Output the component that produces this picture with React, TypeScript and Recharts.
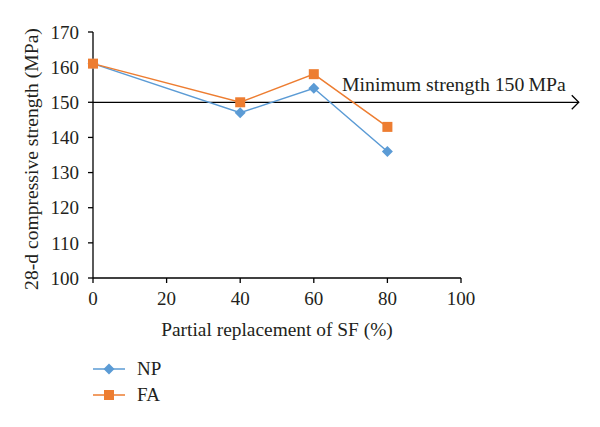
import React from 'react';
import { LineChart, Line, XAxis, YAxis, ReferenceLine, Legend } from 'recharts';

const replacement = [0, 40, 60, 80];
const npStrength = [161, 147, 154, 136];
const faStrength = [161, 150, 158, 143];
const xTicks = [0, 20, 40, 60, 80, 100];
const yTicks = [100, 110, 120, 130, 140, 150, 160, 170];
const minStrength = 150;

const NP_COLOR = '#5b9bd5';
const FA_COLOR = '#ed7d31';
const FONT = '"Liberation Serif", "Times New Roman", serif';

const data = replacement.map((x, i) => ({ x, np: npStrength[i], fa: faStrength[i] }));

const Diamond = (props: any) => {
  const { cx, cy, fill } = props;
  if (cx == null || cy == null) return null;
  const r = 5.5;
  return <polygon points={`${cx},${cy - r} ${cx + r},${cy} ${cx},${cy + r} ${cx - r},${cy}`} fill={fill} />;
};

const Square = (props: any) => {
  const { cx, cy, fill } = props;
  if (cx == null || cy == null) return null;
  const s = 10;
  return <rect x={cx - s / 2} y={cy - s / 2} width={s} height={s} fill={fill} />;
};

const ArrowLine = (props: any) => {
  const { x1, y1, x2, y2 } = props;
  return (
    <g>
      <line x1={x1} y1={y1} x2={x2} y2={y2} stroke="#000" strokeWidth={1.3} />
      <polyline points={`${x2 - 7},${y2 - 7} ${x2},${y2} ${x2 - 7},${y2 + 7}`} fill="none" stroke="#000" strokeWidth={1.3} />
      <text x={x2 - 13} y={y1 - 11} textAnchor="end" fontFamily={FONT} fontSize={19.8} fill="#231f20">
        Minimum strength 150{'\u2009'}MPa
      </text>
    </g>
  );
};

const renderLegend = () => {
  const items = [
    { name: 'NP', color: NP_COLOR, shape: 'diamond' },
    { name: 'FA', color: FA_COLOR, shape: 'square' },
  ];
  return (
    <div style={{ fontFamily: FONT, fontSize: 19, color: '#231f20' }}>
      {items.map((it) => (
        <div key={it.name} style={{ display: 'flex', alignItems: 'center', height: 26 }}>
          <svg width={44} height={20}>
            <line x1={0} y1={10} x2={32} y2={10} stroke={it.color} strokeWidth={1.5} />
            {it.shape === 'diamond' ? <Diamond cx={16} cy={10} fill={it.color} /> : <Square cx={16} cy={10} fill={it.color} />}
          </svg>
          <span>{it.name}</span>
        </div>
      ))}
    </div>
  );
};

const YLabel = (props: any) => {
  const vb = props.viewBox || {};
  const x = vb.x + 31;
  const y = vb.y + vb.height / 2 + 4;
  return (
    <text x={x} y={y} transform={`rotate(-90, ${x}, ${y})`} textAnchor="middle" dominantBaseline="central" fontFamily={FONT} fontSize={19.6} fill="#231f20">
      28-d compressive strength (MPa)
    </text>
  );
};

const tickStyle = { fontFamily: FONT, fontSize: 19, fill: '#231f20' };
const titleStyle = { fontFamily: FONT, fontSize: 19.4, fill: '#231f20' };

export default function App() {
  return (
    <div style={{ position: 'absolute', left: 0, top: 0, width: 600, height: 427, background: '#fff' }}>
      <LineChart width={600} height={427} data={data} margin={{ top: 32, right: 139, left: 0, bottom: 0 }}>
        <XAxis
          type="number"
          dataKey="x"
          domain={[0, 100]}
          ticks={xTicks}
          height={89}
          tickSize={5}
          tickMargin={9}
          axisLine={{ stroke: '#000', strokeWidth: 1.3 }}
          tickLine={{ stroke: '#000', strokeWidth: 1.3 }}
          tick={tickStyle}
          label={{ value: 'Partial replacement of SF (%)', position: 'insideTop', offset: 44, style: titleStyle }}
        />
        <YAxis
          type="number"
          domain={[100, 170]}
          ticks={yTicks}
          width={93}
          tickSize={5}
          tickMargin={9}
          axisLine={{ stroke: '#000', strokeWidth: 1.3 }}
          tickLine={{ stroke: '#000', strokeWidth: 1.3 }}
          tick={tickStyle}
          label={<YLabel />}
        />
        <ReferenceLine
          segment={[{ x: 0, y: minStrength }, { x: 132, y: minStrength }]}
          ifOverflow="visible"
          shape={<ArrowLine />}
        />
        <Line
          dataKey="np"
          name="NP"
          stroke={NP_COLOR}
          strokeWidth={1.5}
          dot={<Diamond fill={NP_COLOR} />}
          activeDot={false}
          isAnimationActive={false}
        />
        <Line
          dataKey="fa"
          name="FA"
          stroke={FA_COLOR}
          strokeWidth={1.5}
          dot={<Square fill={FA_COLOR} />}
          activeDot={false}
          isAnimationActive={false}
        />
        <Legend
          content={renderLegend}
          verticalAlign="bottom"
          wrapperStyle={{ left: 93, top: 356, width: 200, height: 60 }}
        />
      </LineChart>
    </div>
  );
}
